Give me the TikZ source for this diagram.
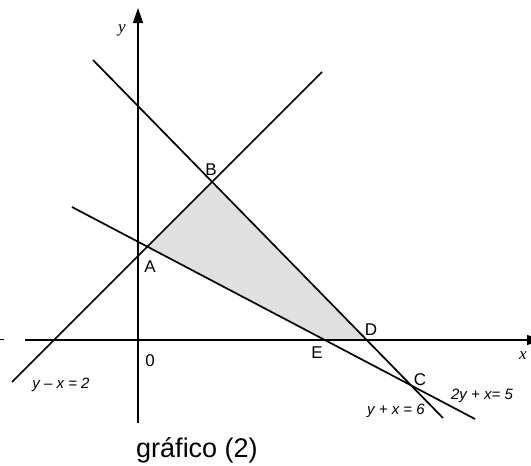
\documentclass[tikz,border=0pt]{standalone}
\usepackage{fontspec}
\setmainfont{Liberation Sans}
\newfontfamily\serifit{Liberation Serif}
\usetikzlibrary{intersections,arrows.meta}
\definecolor{regiongray}{RGB}{224,224,224}
\begin{document}
\begin{tikzpicture}[x=1pt,y=-1pt,
  graphline/.style={line width=1.7pt, black},
  axisline/.style={line width=1.3pt, black, -{Triangle[length=15pt,width=10pt]}},
  ptlab/.style={inner sep=0pt, font=\fontsize{17}{19}\selectfont},
  eqlab/.style={inner sep=0pt, font=\fontsize{15}{17}\selectfont\itshape},
  axlab/.style={inner sep=0pt, font=\fontsize{17}{19}\selectfont\serifit\itshape}]
\useasboundingbox (0,0) rectangle (531,466);
\clip (0,0) rectangle (531,466);
% axes end points
\coordinate (xs) at (25,340);
\coordinate (xe) at (542,340);
\coordinate (ys) at (138,423);
\coordinate (ye) at (138,8);
\coordinate (tk1) at (0,339.5);
\coordinate (tk2) at (4,339.5);
% line end points
\coordinate (L1a) at (12,382);
\coordinate (L1b) at (322,72);
\coordinate (L2a) at (93,60);
\coordinate (L2b) at (443,418);
\coordinate (L3a) at (72,207);
\coordinate (L3b) at (475,419);
\path[name path=l1] (L1a) -- (L1b);
\path[name path=l2] (L2a) -- (L2b);
\path[name path=l3] (L3a) -- (L3b);
\path[name path=xa] (xs) -- (xe);
\path[name intersections={of=l1 and l3, by=A}];
\path[name intersections={of=l1 and l2, by=B}];
\path[name intersections={of=l2 and l3, by=C}];
\path[name intersections={of=l2 and xa, by=D}];
\path[name intersections={of=l3 and xa, by=E}];
\fill[fill=regiongray] (A) -- (B) -- (D) -- (E) -- cycle;
% axes
\draw[axisline] (xs) -- (xe);
\draw[axisline] (ys) -- (ye);
\draw[line width=1pt] (tk1) -- (tk2);
% lines
\draw[graphline] (L1a) -- (L1b);
\draw[graphline] (L2a) -- (L2b);
\draw[graphline] (L3a) -- (L3b);
% labels
\node[axlab] (ylab) at (122,30) {y};
\node[axlab] (xlab) at (523,356) {x};
\node[ptlab] (zero) at (150,361) {0};
\node[ptlab] (Alab) at (150,267) {A};
\node[ptlab] (Blab) at (211,170) {B};
\node[ptlab] (Clab) at (420,380) {C};
\node[ptlab] (Dlab) at (371,330) {D};
\node[ptlab] (Elab) at (317,353) {E};
\node[eqlab] (eq1) at (61,385) {y – x = 2};
\node[eqlab] (eq2) at (396,411) {y + x = 6};
\node[eqlab] (eq3) at (482,396) {2y + x= 5};
\node[inner sep=0pt, anchor=base, font=\fontsize{27}{30}\selectfont] (title) at (197,457) {gráfico (2)};
\end{tikzpicture}
\end{document}
